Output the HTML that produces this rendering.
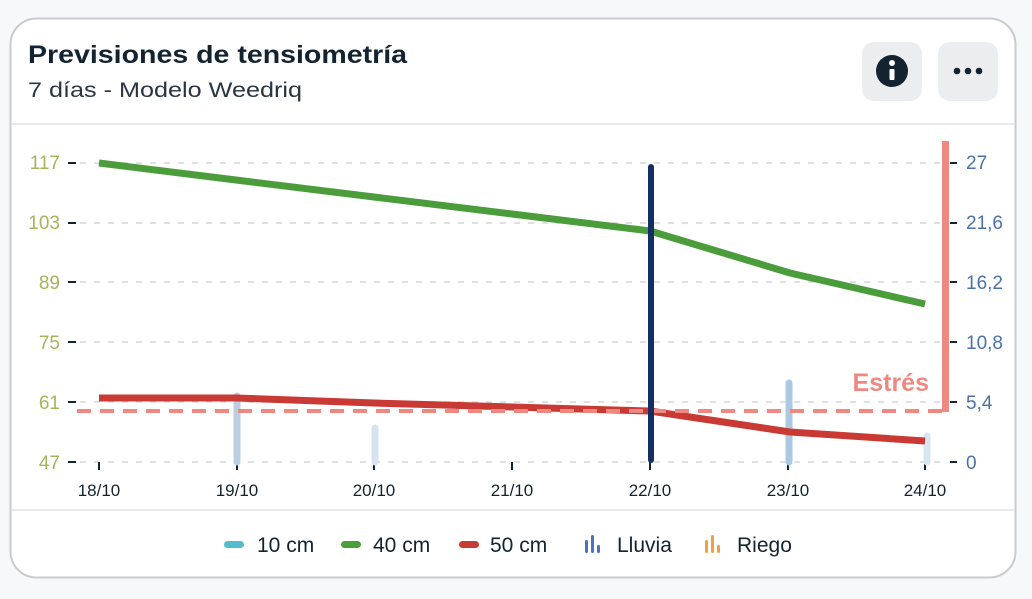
<!DOCTYPE html><html><head><style>body{margin:0;background:#f7f8fa;font-family:"Liberation Sans",sans-serif}</style></head><body>
<svg width="1032" height="594" xmlns="http://www.w3.org/2000/svg" font-family="Liberation Sans, sans-serif">
<rect x="10.5" y="18.5" width="1005" height="559" rx="26" fill="#fff" stroke="#c9cbcf" stroke-width="2"/>
<text x="28" y="63" font-size="25" font-weight="bold" fill="#13232f" textLength="379" lengthAdjust="spacingAndGlyphs">Previsiones de tensiometría</text>
<text x="28" y="97" font-size="21" fill="#2a3540" textLength="274" lengthAdjust="spacingAndGlyphs">7 días - Modelo Weedriq</text>
<rect x="862" y="42" width="60" height="59" rx="12" fill="#ebedef"/>
<circle cx="892" cy="71" r="16" fill="#13232f"/>
<rect x="889.5" y="69" width="5" height="11" rx="1" fill="#fff"/><circle cx="892" cy="63" r="3" fill="#fff"/>
<rect x="938" y="42" width="60" height="59" rx="12" fill="#ebedef"/>
<circle cx="957" cy="71" r="3.3" fill="#13232f"/><circle cx="968" cy="71" r="3.3" fill="#13232f"/><circle cx="979" cy="71" r="3.3" fill="#13232f"/>
<line x1="11" y1="124" x2="1015" y2="124" stroke="#e2e4e7" stroke-width="1.5"/>
<line x1="11" y1="510" x2="1015" y2="510" stroke="#e2e4e7" stroke-width="1.5"/>
<g stroke="#d3d5d8" stroke-width="1.5" stroke-dasharray="6,8">
<line x1="80" y1="163" x2="945" y2="163"/><line x1="80" y1="223" x2="945" y2="223"/><line x1="80" y1="282" x2="945" y2="282"/><line x1="80" y1="342" x2="945" y2="342"/><line x1="80" y1="402" x2="945" y2="402"/><line x1="80" y1="462" x2="945" y2="462"/></g>
<g stroke="#13232f" stroke-width="2">
<line x1="68" y1="163" x2="76" y2="163"/><line x1="68" y1="223" x2="76" y2="223"/><line x1="68" y1="282" x2="76" y2="282"/><line x1="68" y1="342" x2="76" y2="342"/><line x1="68" y1="402" x2="76" y2="402"/><line x1="68" y1="462" x2="76" y2="462"/>
<line x1="950" y1="163" x2="957" y2="163"/><line x1="950" y1="223" x2="957" y2="223"/><line x1="950" y1="282" x2="957" y2="282"/><line x1="950" y1="342" x2="957" y2="342"/><line x1="950" y1="402" x2="957" y2="402"/><line x1="950" y1="462" x2="957" y2="462"/>
<line x1="99" y1="462" x2="99" y2="470"/><line x1="237" y1="462" x2="237" y2="470"/><line x1="374" y1="462" x2="374" y2="470"/><line x1="512" y1="462" x2="512" y2="470"/><line x1="650" y1="462" x2="650" y2="470"/><line x1="788" y1="462" x2="788" y2="470"/><line x1="925" y1="462" x2="925" y2="470"/></g>
<g font-size="19" fill="#a8b35c" text-anchor="end">
<text x="60" y="169">117</text><text x="60" y="229">103</text><text x="60" y="289">89</text><text x="60" y="349">75</text><text x="60" y="409">61</text><text x="60" y="469">47</text></g>
<g font-size="19" fill="#4a72a8">
<text x="966" y="169">27</text><text x="966" y="229">21,6</text><text x="966" y="289">16,2</text><text x="966" y="349">10,8</text><text x="966" y="409">5,4</text><text x="966" y="469">0</text></g>
<g font-size="17" fill="#13232f" text-anchor="middle">
<text x="99" y="496">18/10</text><text x="237" y="496">19/10</text><text x="374" y="496">20/10</text><text x="512" y="496">21/10</text><text x="650" y="496">22/10</text><text x="788" y="496">23/10</text><text x="925" y="496">24/10</text></g>
<g stroke-linecap="round" stroke-width="7">
<line x1="237" y1="396" x2="237" y2="462" stroke="#bccfe0"/>
<line x1="375" y1="428" x2="375" y2="462" stroke="#d7e3ef"/>
<line x1="789" y1="383" x2="789" y2="462" stroke="#abc9e3"/>
<line x1="927" y1="436" x2="927" y2="462" stroke="#d9e6f2"/></g>
<polyline points="99,163 236,180 374,197 512,214 650,231 790,273 925,304" fill="none" stroke="#4b9d3c" stroke-width="7"/>
<polyline points="99,398 236,398 374,403 512,407 650,411 790,432 925,441" fill="none" stroke="#c83a33" stroke-width="7"/>
<line x1="77" y1="411" x2="945" y2="411" stroke="#ee8880" stroke-width="4" stroke-dasharray="14,9"/>
<rect x="942" y="141" width="7" height="271" fill="#ee8880"/>
<text x="929" y="391" font-size="25" font-weight="bold" fill="#ee8880" text-anchor="end">Estrés</text>
<rect x="648" y="164" width="6" height="299" rx="3" fill="#142f63"/>
<g font-size="21" fill="#13232f">
<rect x="224" y="541" width="20" height="7" rx="3.5" fill="#55bccb"/><text x="257" y="552">10 cm</text>
<rect x="341" y="541" width="20" height="7" rx="3.5" fill="#4b9d3c"/><text x="373" y="552">40 cm</text>
<rect x="459" y="541" width="20" height="7" rx="3.5" fill="#c83a33"/><text x="490" y="552">50 cm</text>
<g fill="#4a72c0"><rect x="585" y="540" width="3" height="13" rx="1.5"/><rect x="591" y="535" width="3" height="18" rx="1.5"/><rect x="597" y="545" width="3" height="8" rx="1.5"/></g><text x="617" y="552">Lluvia</text>
<g fill="#f0a040"><rect x="705" y="540" width="3" height="13" rx="1.5"/><rect x="711" y="535" width="3" height="18" rx="1.5"/><rect x="717" y="545" width="3" height="8" rx="1.5"/></g><text x="737" y="552">Riego</text></g>
</svg></body></html>
